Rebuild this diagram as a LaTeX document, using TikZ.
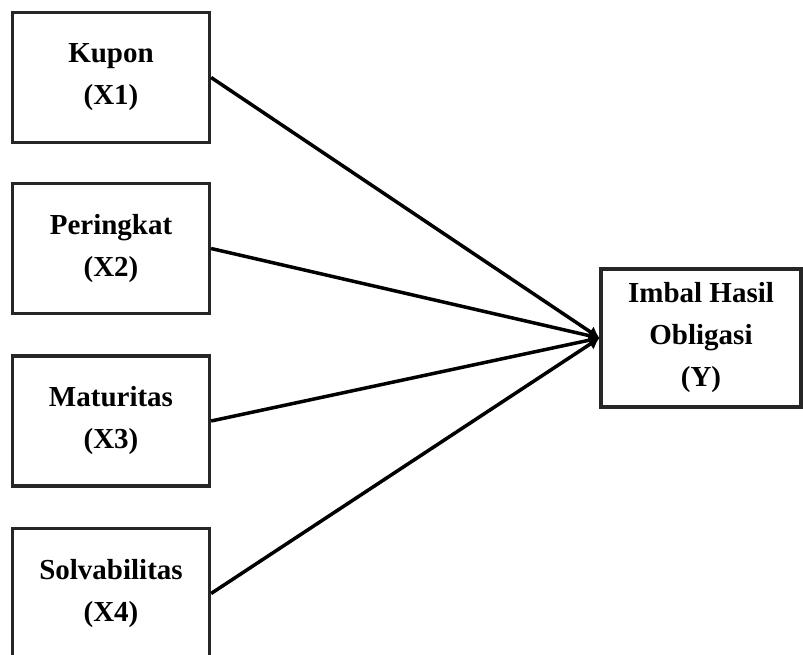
\documentclass[tikz,border=0pt]{standalone}
\usepackage{fontspec}
\setmainfont{Liberation Serif}
\usetikzlibrary{arrows.meta}
\begin{document}
\begin{tikzpicture}[x=1pt,y=-1pt,
  box/.style={draw=black!85, line width=3.2pt, minimum width=197pt, inner sep=0pt,
    align=center, font=\fontsize{29}{42}\selectfont\bfseries},
  conn/.style={line width=3.5pt, -{Latex[length=11pt,width=13pt]}}]
\clip (0,0) rectangle (803,655);
\fill[white] (0,0) rectangle (803,655);
\node[box, minimum height=130pt] (x1) at (111,77.5) {Kupon\\(X1)};
\node[box, minimum height=130pt] (x2) at (111,248.5) {Peringkat\\(X2)};
\node[box, minimum height=130pt] (x3) at (111,421) {Maturitas\\(X3)};
\node[box, minimum height=130pt] (x4) at (111,593.5) {Solvabilitas\\(X4)};
\node[box, minimum width=200pt, minimum height=138pt] (y) at (701,338) {Imbal Hasil\\Obligasi\\(Y)};
\foreach \n in {x1,x2,x3,x4}
  \draw[conn] (\n.east) -- (y.west);
\end{tikzpicture}
\end{document}
